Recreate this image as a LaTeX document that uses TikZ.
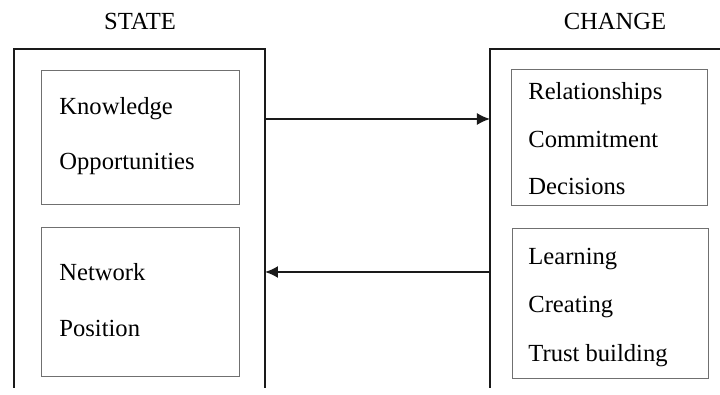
\documentclass[tikz,border=0pt]{standalone}
\usepackage{fontspec}
\setmainfont{Liberation Serif}
\usetikzlibrary{arrows.meta,positioning,calc}
\definecolor{Frame}{HTML}{1A1A1A}
\definecolor{Inner}{HTML}{707070}

\tikzset{
  frame/.style={draw=Frame,line width=0.85pt},
  innerbox/.style={draw=Inner,line width=0.5pt},
  item/.style={anchor=base west,inner sep=0pt},
  title/.style={anchor=base,inner sep=0pt},
  flow/.style={draw=Frame,line width=0.85pt,-{Latex[length=6.5pt,width=6pt]}}
}

\begin{document}
\begin{tikzpicture}[x=0.5pt,y=-0.5pt,font=\fontsize{12.3}{14}\selectfont]
  \useasboundingbox (0,0) rectangle (720,395);
  % column titles
  \node[title] (state) at (140,30) {STATE};
  \node[title] (change) at (615,30) {CHANGE};
  % outer frames, open at the bottom
  \draw[frame] (14,388) -- (14,49) -- (265,49) -- (265,388);
  \draw[frame] (490,388) -- (490,49) -- (725,49);
  % inner boxes
  \draw[innerbox] (42,71) rectangle (240,205);
  \draw[innerbox] (42,228) rectangle (240,377);
  \draw[innerbox] (512,70) rectangle (708,206);
  \draw[innerbox] (513,229) rectangle (709,379);
  % state items
  \foreach \t/\y [count=\i] in {Knowledge/115,Opportunities/170,Network/281,Position/337}
    \node[item] (st\i) at (59,\y) {\t};
  % change items
  \foreach \t/\y [count=\i] in {Relationships/100,Commitment/148,Decisions/195,Learning/265,Creating/313,Trust building/362}
    \node[item] (ch\i) at (528,\y) {\t};
  % arrows between the frames
  \coordinate (stOut) at (265,119);
  \coordinate (chIn) at (490,119);
  \coordinate (chOut) at (490,272);
  \coordinate (stIn) at (265,272);
  \draw[flow] (stOut) -- (chIn);
  \draw[flow] (chOut) -- (stIn);
\end{tikzpicture}
\end{document}
